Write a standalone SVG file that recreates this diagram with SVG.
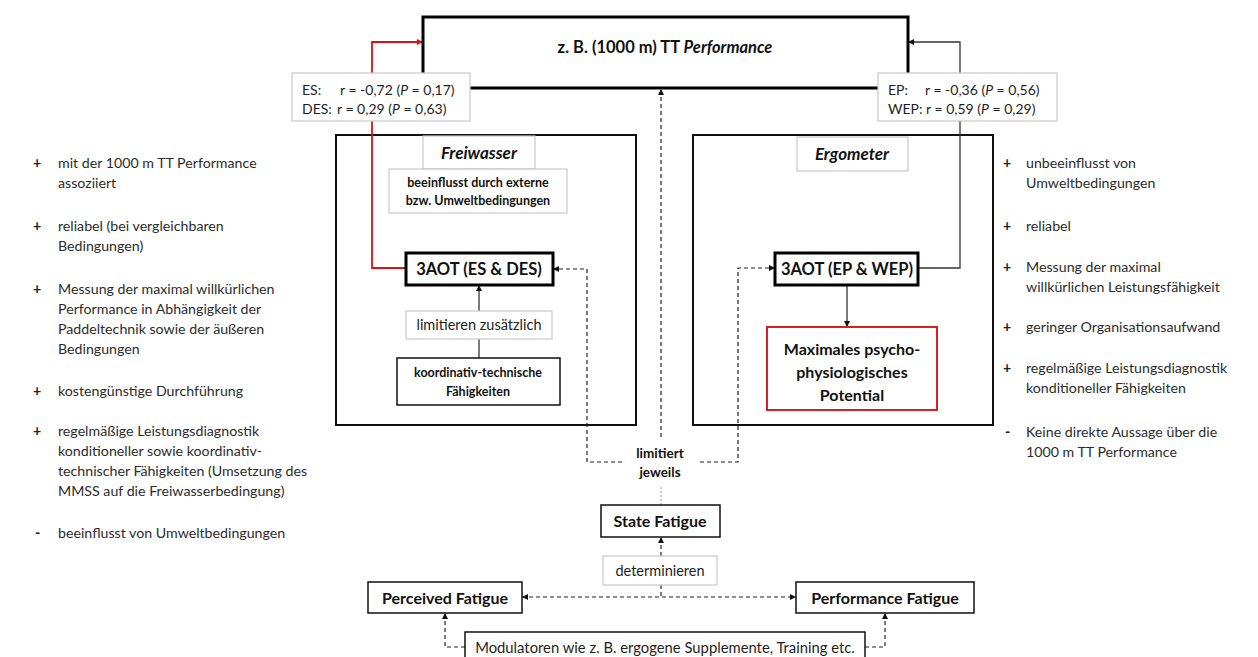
<svg xmlns="http://www.w3.org/2000/svg" width="1258" height="657" viewBox="0 0 1258 657">
  <style>
    text { font-family: Lato, "Open Sans", "Liberation Sans", sans-serif; }
    .b { font-weight: bold; fill: #111; }
    .bi { font-weight: bold; font-style: italic; fill: #111; }
    .r { fill: #1e1e1e; }
    .list { font-size: 14.2px; fill: #2c2c2c; }
    .pm { font-size: 14.2px; font-weight: bold; fill: #222; }
    .node { fill: #fff; stroke: #111; stroke-width: 1.5; }
    .thick { fill: #fff; stroke: #000; stroke-width: 3; }
    .frame { fill: none; stroke: #111; stroke-width: 2; }
    .lbl { fill: #fff; stroke: #c8c8c8; stroke-width: 1.2; }
    .solid { fill: none; stroke: #333; stroke-width: 1.3; }
    .dash { fill: none; stroke: #222; stroke-width: 1.2; stroke-dasharray: 4 3; }
    .dot { fill: none; stroke: #999; stroke-width: 1; stroke-dasharray: 2 2; }
    .red { fill: none; stroke: #e01010; stroke-width: 1.8; }
  </style>
  <defs>
    <marker id="ah" markerUnits="userSpaceOnUse" markerWidth="8" markerHeight="8" refX="6" refY="3.5" orient="auto-start-reverse">
      <path d="M0,0.5 L6,3.5 L0,6.5 Z" fill="#111"/>
    </marker>
    <marker id="ahr" markerUnits="userSpaceOnUse" markerWidth="8" markerHeight="8" refX="6" refY="3.5" orient="auto">
      <path d="M0,0.5 L6,3.5 L0,6.5 Z" fill="#e01010"/>
    </marker>
  </defs>

  <rect width="1258" height="657" fill="#fff"/>

  <!-- large context frames -->
  <g id="freiwasser-frame">
    <rect class="frame" x="336" y="135" width="300" height="290"/>
  </g>
  <g id="ergometer-frame">
    <rect class="frame" x="693" y="135" width="300" height="290"/>
  </g>

  <!-- connectors -->
  <g id="connectors">
    <path class="red" d="M406,268 H372 V42 H423" marker-end="url(#ahr)"/>
    <path class="solid" d="M918,268 H960 V42 H908" marker-end="url(#ah)"/>
    <path class="dash" d="M661,437 V89" marker-end="url(#ah)"/>
    <path class="dash" d="M622,462 H587 V269 H553" marker-end="url(#ah)"/>
    <path class="dash" d="M700,462 H738 V268 H775" marker-end="url(#ah)"/>
    <path class="dot" d="M661,487 V505"/>
    <path class="dash" d="M661,556 V537" marker-end="url(#ah)"/>
    <path class="dash" d="M661,585 V597"/>
    <path class="dash" d="M522,597 H796" marker-start="url(#ah)" marker-end="url(#ah)"/>
    <path class="dash" d="M465,647 H445 V613" marker-end="url(#ah)"/>
    <path class="dash" d="M865,647 H885 V613" marker-end="url(#ah)"/>
    <path class="solid" d="M847,285 V327" marker-end="url(#ah)"/>
    <path class="solid" d="M479,358 V285" marker-end="url(#ah)"/>
  </g>

  <g id="tt-performance">
    <rect class="thick" x="423" y="17" width="485" height="71" stroke-width="2.5"/>
    <text x="665" y="53" text-anchor="middle" font-size="16.5" class="b">z. B. (1000 m) TT <tspan font-style="italic">Performance</tspan></text>
  </g>

  <g id="label-es">
    <rect class="lbl" x="292" y="73" width="178" height="48"/>
    <text x="302" y="95" font-size="14" class="r">ES:</text>
    <text x="340" y="95" font-size="14" class="r">r = -0,72 (<tspan font-style="italic">P</tspan> = 0,17)</text>
    <text x="302" y="114" font-size="14" class="r">DES:</text>
    <text x="337" y="114" font-size="14" class="r">r = 0,29 (<tspan font-style="italic">P</tspan> = 0,63)</text>
  </g>

  <g id="label-ep">
    <rect class="lbl" x="878" y="73" width="179" height="48"/>
    <text x="888" y="95" font-size="14" class="r">EP:</text>
    <text x="925" y="95" font-size="14" class="r">r = -0,36 (<tspan font-style="italic">P</tspan> = 0,56)</text>
    <text x="888" y="114" font-size="14" class="r">WEP: r = 0,59 (<tspan font-style="italic">P</tspan> = 0,29)</text>
  </g>

  <g id="freiwasser-tab">
    <rect class="lbl" x="423" y="136" width="112" height="33"/>
    <text x="479" y="159" text-anchor="middle" font-size="17" class="bi">Freiwasser</text>
  </g>
  <g id="freiwasser-note">
    <rect class="lbl" x="389" y="169" width="178" height="44"/>
    <text x="478" y="187" text-anchor="middle" font-size="12.5" class="b">beeinflusst durch externe</text>
    <text x="478" y="205" text-anchor="middle" font-size="12.5" class="b">bzw. Umweltbedingungen</text>
  </g>

  <g id="aot-es-des">
    <rect class="thick" x="406" y="253" width="147" height="32"/>
    <text x="479" y="275" text-anchor="middle" font-size="16.5" class="b">3AOT (ES &amp; DES)</text>
  </g>
  <g id="label-limitieren">
    <rect class="lbl" x="406" y="311" width="146" height="28"/>
    <text x="479" y="330" text-anchor="middle" font-size="14.5" class="r">limitieren zusätzlich</text>
  </g>
  <g id="koordinativ">
    <rect class="node" x="397" y="358" width="163" height="47"/>
    <text x="478" y="377" text-anchor="middle" font-size="12.5" class="b">koordinativ-technische</text>
    <text x="478" y="396" text-anchor="middle" font-size="12.5" class="b">Fähigkeiten</text>
  </g>

  <g id="ergometer-tab">
    <rect class="lbl" x="797" y="137" width="111" height="34"/>
    <text x="852" y="160" text-anchor="middle" font-size="17" class="bi">Ergometer</text>
  </g>
  <g id="aot-ep-wep">
    <rect class="thick" x="775" y="253" width="143" height="32"/>
    <text x="847" y="275" text-anchor="middle" font-size="16.5" class="b">3AOT (EP &amp; WEP)</text>
  </g>
  <g id="max-potential">
    <rect x="767" y="327" width="170" height="83" fill="#fff" stroke="#d42020" stroke-width="2"/>
    <text x="852" y="355" text-anchor="middle" font-size="16" class="b">Maximales psycho-</text>
    <text x="852" y="378" text-anchor="middle" font-size="16" class="b">physiologisches</text>
    <text x="852" y="401" text-anchor="middle" font-size="16" class="b">Potential</text>
  </g>

  <g id="label-limitiert">
    <text x="660" y="458" text-anchor="middle" font-size="13.5" class="b">limitiert</text>
    <text x="660" y="477" text-anchor="middle" font-size="13.5" class="b">jeweils</text>
  </g>

  <g id="state-fatigue">
    <rect class="node" x="601" y="505" width="119" height="32"/>
    <text x="660" y="527" text-anchor="middle" font-size="16" class="b">State Fatigue</text>
  </g>
  <g id="label-determinieren">
    <rect class="lbl" x="603" y="556" width="114" height="29"/>
    <text x="660" y="576" text-anchor="middle" font-size="14.5" class="r">determinieren</text>
  </g>
  <g id="perceived-fatigue">
    <rect class="node" x="368" y="582" width="154" height="31"/>
    <text x="445" y="604" text-anchor="middle" font-size="16" class="b">Perceived Fatigue</text>
  </g>
  <g id="performance-fatigue">
    <rect class="node" x="796" y="582" width="178" height="31"/>
    <text x="885" y="604" text-anchor="middle" font-size="16" class="b">Performance Fatigue</text>
  </g>
  <g id="modulatoren">
    <rect class="node" x="465" y="632" width="400" height="40"/>
    <text x="665" y="653" text-anchor="middle" font-size="14.8" class="r">Modulatoren wie z. B. ergogene Supplemente, Training etc.</text>
  </g>

  <!-- Freiwasser pros and cons -->
  <g id="list-freiwasser">
    <text x="33" y="168" class="pm">+</text>
    <text x="58" y="168" class="list">mit der 1000 m TT Performance</text>
    <text x="58" y="188" class="list">assoziiert</text>
    <text x="33" y="231" class="pm">+</text>
    <text x="58" y="231" class="list">reliabel (bei vergleichbaren</text>
    <text x="58" y="251" class="list">Bedingungen)</text>
    <text x="33" y="294" class="pm">+</text>
    <text x="58" y="294" class="list">Messung der maximal willkürlichen</text>
    <text x="58" y="314" class="list">Performance in Abhängigkeit der</text>
    <text x="58" y="334" class="list">Paddeltechnik sowie der äußeren</text>
    <text x="58" y="354" class="list">Bedingungen</text>
    <text x="33" y="396" class="pm">+</text>
    <text x="58" y="396" class="list">kostengünstige Durchführung</text>
    <text x="33" y="436" class="pm">+</text>
    <text x="58" y="436" class="list">regelmäßige Leistungsdiagnostik</text>
    <text x="58" y="456" class="list">konditioneller sowie koordinativ-</text>
    <text x="58" y="476" class="list">technischer Fähigkeiten (Umsetzung des</text>
    <text x="58" y="496" class="list">MMSS auf die Freiwasserbedingung)</text>
    <text x="35" y="538" class="pm">-</text>
    <text x="58" y="538" class="list">beeinflusst von Umweltbedingungen</text>
  </g>

  <!-- Ergometer pros and cons -->
  <g id="list-ergometer">
    <text x="1003" y="168" class="pm">+</text>
    <text x="1026" y="168" class="list">unbeeinflusst von</text>
    <text x="1026" y="188" class="list">Umweltbedingungen</text>
    <text x="1003" y="231" class="pm">+</text>
    <text x="1026" y="231" class="list">reliabel</text>
    <text x="1003" y="272" class="pm">+</text>
    <text x="1026" y="272" class="list">Messung der maximal</text>
    <text x="1026" y="292" class="list">willkürlichen Leistungsfähigkeit</text>
    <text x="1003" y="332" class="pm">+</text>
    <text x="1026" y="332" class="list">geringer Organisationsaufwand</text>
    <text x="1003" y="373" class="pm">+</text>
    <text x="1026" y="373" class="list">regelmäßige Leistungsdiagnostik</text>
    <text x="1026" y="393" class="list">konditioneller Fähigkeiten</text>
    <text x="1005" y="437" class="pm">-</text>
    <text x="1026" y="437" class="list">Keine direkte Aussage über die</text>
    <text x="1026" y="457" class="list">1000 m TT Performance</text>
  </g>
</svg>
